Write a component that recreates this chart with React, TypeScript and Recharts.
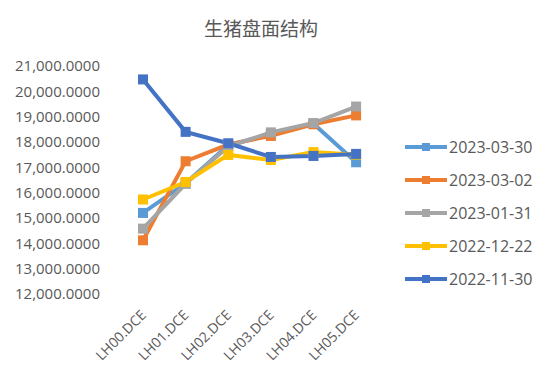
import React from "react";
import { LineChart, Line, XAxis, YAxis, Legend } from "recharts";

const categories = ["LH00.DCE", "LH01.DCE", "LH02.DCE", "LH03.DCE", "LH04.DCE", "LH05.DCE"];
const s20230330 = [15200, 16370, 17880, 18300, 18720, 17200];
const s20230302 = [14120, 17240, 17900, 18240, 18700, 19050];
const s20230131 = [14580, 16350, 17820, 18380, 18750, 19400];
const s20221222 = [15730, 16420, 17490, 17290, 17600, 17500];
const s20221130 = [20470, 18400, 17950, 17410, 17450, 17530];
const yTicks = [12000, 13000, 14000, 15000, 16000, 17000, 18000, 19000, 20000, 21000];
const title = "生猪盘面结构";

const series = [
  { key: "2023-03-30", values: s20230330, color: "#5B9BD5" },
  { key: "2023-03-02", values: s20230302, color: "#ED7D31" },
  { key: "2023-01-31", values: s20230131, color: "#A5A5A5" },
  { key: "2022-12-22", values: s20221222, color: "#FFC000" },
  { key: "2022-11-30", values: s20221130, color: "#4472C4" },
];

const data = categories.map((c, i) => {
  const row: any = { name: c };
  series.forEach((s) => (row[s.key] = s.values[i]));
  return row;
});

const FONT = "'Open Sans', 'Noto Sans', sans-serif";
const TXT = "#595959";

const fmt = (v: number) =>
  v.toLocaleString("en-US", { minimumFractionDigits: 4, maximumFractionDigits: 4 });

const XTick = (props: any) => {
  const { x, y, payload } = props;
  const tx = x + 4;
  const ty = y + 14;
  return (
    <text
      x={tx}
      y={ty}
      transform={`rotate(-45, ${tx}, ${ty})`}
      textAnchor="end"
      fill={TXT}
      fontSize={14}
      fontFamily={FONT}
    >
      {payload.value}
    </text>
  );
};

const makeDot = (color: string) => (props: any) => {
  const { cx, cy, index } = props;
  if (cx == null || cy == null) return <g key={`d-${index}`} />;
  return <rect key={`d-${index}`} x={cx - 5} y={cy - 5} width={10} height={10} fill={color} />;
};

const LegendContent = () => (
  <div style={{ fontFamily: FONT }}>
    {series.map((s) => (
      <div key={s.key} style={{ display: "flex", alignItems: "center", height: 32.8 }}>
        <svg width={44} height={12} style={{ display: "block" }}>
          <line x1={0} y1={6} x2={42} y2={6} stroke={s.color} strokeWidth={4} />
          <rect x={17} y={2} width={8} height={8} fill={s.color} />
        </svg>
        <span style={{ fontSize: 16, color: TXT, lineHeight: "16px" }}>{s.key}</span>
      </div>
    ))}
  </div>
);

export default function App() {
  return (
    <div style={{ position: "absolute", left: 0, top: 0, width: 550, height: 381, background: "#fff" }}>
      <div
        style={{
          position: "absolute",
          left: 0,
          width: 522,
          top: 14,
          textAlign: "center",
          fontFamily: "'Noto Sans CJK SC', sans-serif",
          fontSize: 19,
          color: TXT,
          lineHeight: "28px",
        }}
      >
        {title}
      </div>
      <LineChart
        width={550}
        height={381}
        data={data}
        margin={{ top: 66, right: 172.6, bottom: 7, left: 0 }}
      >
        <XAxis
          dataKey="name"
          axisLine={false}
          tickLine={false}
          height={80}
          interval={0}
          padding={{ left: 21.3, right: 21.3 }}
          tick={<XTick />}
        />
        <YAxis
          domain={[12000, 21000]}
          ticks={yTicks}
          axisLine={false}
          tickLine={false}
          width={121.7}
          tickSize={0}
          tickMargin={21.7}
          tickFormatter={fmt}
          tick={{ fill: TXT, fontSize: 15, fontFamily: FONT }}
          interval={0}
        />
        <Legend
          layout="vertical"
          align="center"
          verticalAlign="middle"
          content={<LegendContent />}
          wrapperStyle={{ position: "absolute", left: 405, top: 131, width: 145 }}
        />
        {series.map((s) => (
          <Line
            key={s.key}
            dataKey={s.key}
            stroke={s.color}
            strokeWidth={4}
            dot={makeDot(s.color)}
            activeDot={false}
            isAnimationActive={false}
          />
        ))}
      </LineChart>
    </div>
  );
}
